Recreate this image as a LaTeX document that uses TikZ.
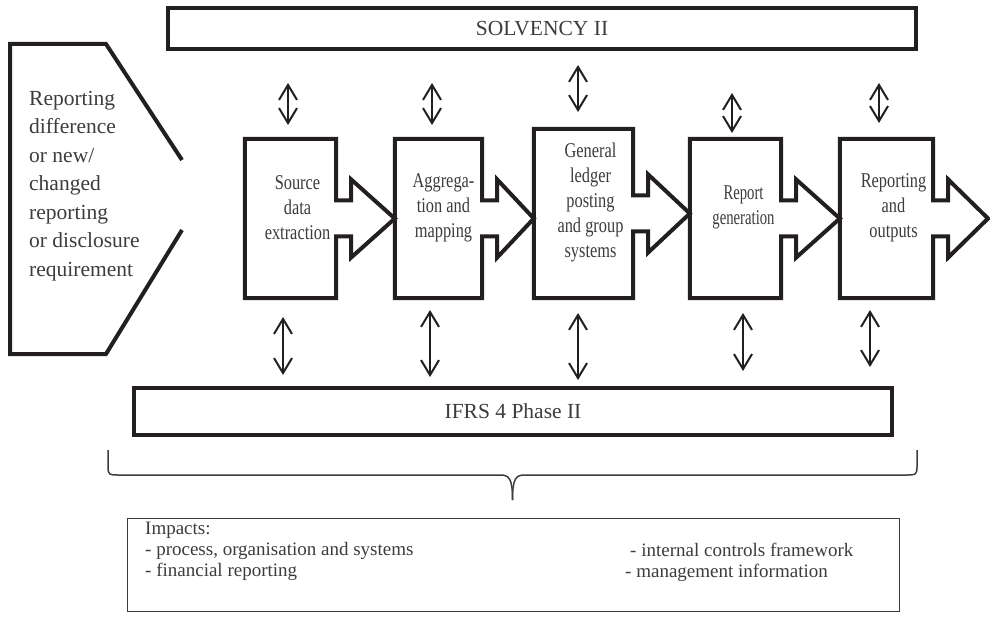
\documentclass[tikz,border=0pt]{standalone}
\usepackage{fontspec}
\setmainfont{Liberation Serif}
\newfontfamily\narrowserif[FakeStretch=0.78]{Liberation Serif}
\newfontfamily\narrowerserif[FakeStretch=0.70]{Liberation Serif}
\usetikzlibrary{arrows.meta,positioning,calc}
\definecolor{inkline}{RGB}{35,31,32}
\definecolor{inktext}{RGB}{60,60,60}

% outline of a stage box with its outgoing arrow
\newcommand{\stageoutline}[2]{%
  \draw[stageline] (#1.north west) -- (#1.north east) -- ($(#1.east)+(0,-18)$)
    -- ++(15,0) -- ++(0,-21) -- (#1.east -| #2) -- ($(#1.east)+(15,39)$)
    -- ++(0,-21) -- ++(-15,0) -- (#1.south east) -- (#1.south west) -- cycle;}

\begin{document}
\begin{tikzpicture}[x=1pt,y=-1pt,
  bar/.style={draw=inkline, line width=4pt, inner sep=0pt, text=inktext,
              font=\fontsize{21.5pt}{26pt}\selectfont},
  stage/.style={inner sep=0pt, minimum height=159pt},
  stageline/.style={draw=inkline, line width=4pt, line join=miter},
  stagetext/.style={align=center, inner sep=0pt, text=inktext,
                    font=\narrowserif\fontsize{21pt}{25pt}\selectfont},
  link/.style={{Straight Barb[length=15pt,width=18pt]}-{Straight Barb[length=15pt,width=18pt]},
               draw=inkline, line width=2pt},
  note/.style={align=left, inner sep=0pt, text=inktext,
               font=\fontsize{19pt}{21pt}\selectfont}
]
\useasboundingbox (0,0) rectangle (990,617);

% trigger shape on the left
\draw[inkline, line width=4pt, line join=miter]
  (182,160) -- (106,44) -- (10,44) -- (10,354) -- (106,354) -- (182,230);
\node[anchor=west, align=left, inner sep=0pt, text=inktext,
      font=\fontsize{21.5pt}{28.5pt}\selectfont] (trigger) at (29,186)
  {Reporting\\difference\\or new/\\changed\\reporting\\or disclosure\\requirement};

% regimes
\node[bar, minimum width=748pt, minimum height=41pt] (solv) at (542,28.5) {SOLVENCY II};
\node[bar, minimum width=758pt, minimum height=47pt] (ifrs) at (513,411.5) {IFRS 4 Phase II};

% process stages
\node[stage, minimum width=91pt] (extract) at (290.5,218.5) {};
\node[stage, minimum width=87pt] (aggreg) at (438.5,218.5) {};
\node[stage, minimum width=99pt, minimum height=169pt] (ledger) at (583.5,213.5) {};
\node[stage, minimum width=91pt] (report) at (735.5,218.5) {};
\node[stage, minimum width=93pt] (output) at (886.5,218.5) {};
\coordinate (exit) at (988,218.5);

\stageoutline{extract}{aggreg.west}
\stageoutline{aggreg}{ledger.west}
\stageoutline{ledger}{report.west}
\stageoutline{report}{output.west}
\stageoutline{output}{exit}

\node[stagetext] (extract-txt) at ([shift={(7,-11)}]extract.center) {Source\\data\\extraction};
\node[stagetext] (aggreg-txt) at ([shift={(5,-11)}]aggreg.center) {Aggrega-\\tion and\\mapping};
\node[stagetext] (ledger-txt) at ([shift={(7,-11)}]ledger.center) {General\\ledger\\posting\\and group\\systems};
\node[stagetext, font=\narrowerserif\fontsize{21pt}{25pt}\selectfont] (report-txt)
  at ([shift={(8,-11)}]report.center) {Report\\generation};
\node[stagetext] (output-txt) at ([shift={(7,-11)}]output.center) {Reporting\\and\\outputs};

% links to the regimes
\foreach \x/\ya/\yb [count=\i] in {288/83/125, 432/83/125, 578/65/112, 732/93/133, 879/83/123}{
  \coordinate (up\i) at (\x,\ya);
  \coordinate (uq\i) at (\x,\yb);
  \draw[link] (up\i) -- (uq\i);
}
\foreach \x/\ya/\yb [count=\i] in {283/317/375, 430/310/377, 578/313/380, 743/313/371, 870/310/367}{
  \coordinate (dn\i) at (\x,\ya);
  \coordinate (dq\i) at (\x,\yb);
  \draw[link] (dn\i) -- (dq\i);
}

% brace
\draw[inktext, line width=1.5pt]
  (108,450) -- (108,467) .. controls (108,475) and (110,475) .. (118,475) -- (500,475)
  .. controls (509,475) and (512.5,478) .. (512.5,500);
\draw[inktext, line width=1.5pt]
  (917,450) -- (917,467) .. controls (917,475) and (915,475) .. (907,475) -- (525,475)
  .. controls (516,475) and (512.5,478) .. (512.5,500);

% impacts
\node[draw=inktext, line width=1.2pt, minimum width=772pt, minimum height=93pt,
      inner sep=0pt] (impacts) at (513.5,565) {};
\node[note, anchor=west] (impacts-left) at (145,551)
  {Impacts:\\- process, organisation and systems\\- financial reporting};
\node[note, anchor=base west] (impacts-ctrl) at (630,556) {- internal controls framework};
\node[note, anchor=base west] (impacts-mgmt) at (625,577) {- management information};
\end{tikzpicture}
\end{document}
